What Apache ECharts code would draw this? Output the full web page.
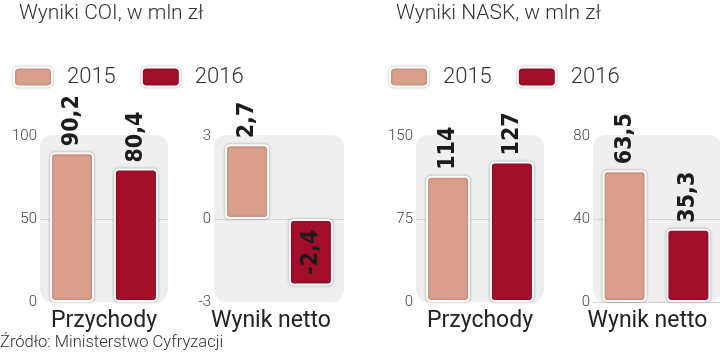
<!DOCTYPE html>
<html>
<head>
<meta charset="utf-8">
<script src="https://cdn.jsdelivr.net/npm/echarts@6/dist/echarts.min.js"></script>
<style>html,body{margin:0;padding:0;background:#fff}#c{width:720px;height:355px}</style>
</head>
<body>
<div id="c"></div>
<script>
// ---- data ----
const years = ['2015', '2016'];
const categories = ['Przychody', 'Wynik netto', 'Przychody', 'Wynik netto'];
const coiPrzychody = [90.2, 80.4];
const coiWynik = [2.7, -2.4];
const naskPrzychody = [114, 127];
const naskWynik = [63.5, 35.3];
const yTicksCoiPrzychody = [0, 50, 100];
const yTicksCoiWynik = [-3, 0, 3];
const yTicksNaskPrzychody = [0, 75, 150];
const yTicksNaskWynik = [0, 40, 80];
const titles = ['Wyniki COI, w mln zł', 'Wyniki NASK, w mln zł'];
const sourceText = 'Źródło: Ministerstwo Cyfryzacji';

// ---- layout / style ----
const colors = ['#daa08b', '#a30e2b'];
const panelValues = [coiPrzychody, coiWynik, naskPrzychody, naskWynik];
const panelTicks = [yTicksCoiPrzychody, yTicksCoiWynik, yTicksNaskPrzychody, yTicksNaskWynik];
const gridLeft = [40, 214, 416, 593];
const gridWidth = [128, 130, 128, 128];
const gridTop = 136, gridHeight = 166;
const catShift = [0, 16, 0, 18];
const lightFont = 'Roboto';
const valueFont = "'DejaVu Sans Condensed', sans-serif";

const chart = echarts.init(document.getElementById('c'), null, {renderer: 'canvas'});

const grids = [], xAxes = [], yAxes = [], series = [], graphics = [];
for (let p = 0; p < 4; p++) {
  grids.push({left: gridLeft[p], width: gridWidth[p], top: gridTop, height: gridHeight, containLabel: false});
  graphics.push({
    type: 'rect', z: -10, silent: true,
    shape: {x: gridLeft[p], y: gridTop - 1, width: gridWidth[p], height: gridHeight + 1, r: 12},
    style: {fill: '#efefef'}
  });
  xAxes.push({
    type: 'category', gridIndex: p, data: [categories[p]],
    axisLine: {show: false, onZero: false}, axisTick: {show: false},
    axisLabel: {
      margin: 8, fontSize: 23, color: '#222', fontFamily: lightFont,
      padding: [0, catShift[p], 0, 0]
    }
  });
  const t = panelTicks[p];
  const step = t[1] - t[0];
  const splitColors = t.map(v => (v === t[1] || (p === 3 && v === t[0])) ? '#d3d3d3' : 'rgba(0,0,0,0)');
  yAxes.push({
    type: 'value', gridIndex: p, min: t[0], max: t[t.length - 1], interval: step,
    axisLine: {show: false}, axisTick: {show: false},
    splitLine: {show: true, lineStyle: {color: splitColors, width: 1}},
    axisLabel: {margin: 3, fontSize: 15, color: '#444', fontFamily: lightFont, fontWeight: 300}
  });
  for (let i = 0; i < 2; i++) {
    const v = panelValues[p][i];
    series.push({
      type: 'bar', name: years[i], xAxisIndex: p, yAxisIndex: p,
      data: [v], barWidth: 44, barGap: '45%',
      itemStyle: {
        color: colors[i], borderColor: '#fff', borderWidth: 2, borderRadius: 4,
        shadowBlur: 3, shadowColor: 'rgba(0,0,0,0.28)'
      },
      label: {
        show: true,
        position: v < 0 ? 'inside' : 'top',
        rotate: 90,
        align: v < 0 ? 'center' : 'left',
        verticalAlign: 'middle',
        distance: 6,
        fontFamily: valueFont, fontWeight: 'bold', fontSize: 23, color: '#1c1c1c',
        formatter: (pr) => String(pr.value).replace('.', ',')
      }
    });
  }
}

const legendCommon = {
  data: years, selectedMode: false, orient: 'horizontal', top: 66, padding: 0,
  itemWidth: 38, itemHeight: 19, itemGap: 25, icon: 'roundRect',
  itemStyle: {borderColor: '#fff', borderWidth: 2, shadowBlur: 3, shadowColor: 'rgba(0,0,0,0.25)'},
  textStyle: {fontSize: 22, color: '#333', fontFamily: lightFont, fontWeight: 300, padding: [0, 0, 0, 10]}
};

chart.setOption({
  animation: false,
  backgroundColor: '#fff',
  title: [
    {text: titles[0], left: 19, top: 3, padding: 0, textStyle: {fontSize: 21, fontWeight: 300, color: '#333', fontFamily: lightFont}},
    {text: titles[1], left: 396, top: 3, padding: 0, textStyle: {fontSize: 21, fontWeight: 300, color: '#333', fontFamily: lightFont}},
    {text: sourceText, left: 0, top: 334, padding: 0, textStyle: {fontSize: 16.5, fontWeight: 300, color: '#333', fontFamily: lightFont}}
  ],
  legend: [
    Object.assign({}, legendCommon, {left: 13}),
    Object.assign({}, legendCommon, {left: 389})
  ],
  grid: grids,
  xAxis: xAxes,
  yAxis: yAxes,
  series: series,
  graphic: graphics
});
</script>
</body>
</html>
